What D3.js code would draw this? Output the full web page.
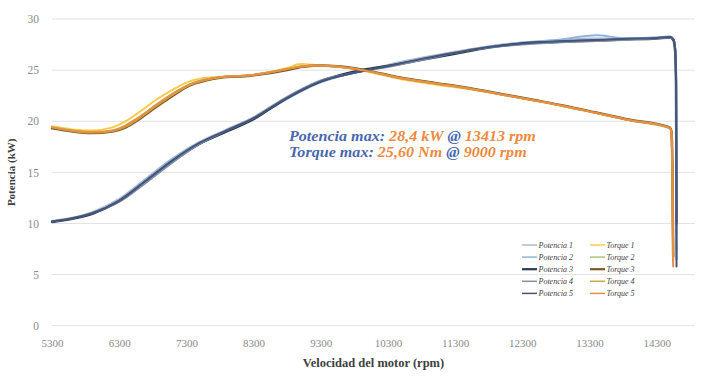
<!DOCTYPE html>
<html>
<head>
<meta charset="utf-8">
<script src="https://cdn.jsdelivr.net/npm/d3@7"></script>
<style>
  html, body { margin: 0; padding: 0; background: #ffffff; }
  svg { display: block; }
  text { font-family: "Liberation Serif", "DejaVu Serif", serif; }
</style>
</head>
<body>
<svg id="chart" width="708" height="377"></svg>
<script>
// Engine speed (rpm) sample points for each family of curves
const rpmPotencia = [5300, 5600, 5900, 6300, 6700, 7100, 7500, 7900, 8300, 8700, 9000, 9300, 9700, 10000, 10300, 10800, 11300, 11800, 12300, 12800, 13413, 13800, 14300, 14500, 14550, 14575, 14588, 14595];
const rpmTorque = [5300, 5600, 5900, 6200, 6400, 6600, 6850, 7100, 7350, 7600, 7800, 8250, 8800, 9000, 9250, 9600, 10000, 10500, 11000, 11500, 12000, 12500, 12900, 13400, 13900, 14450, 14500, 14520, 14535, 14545];

// Power runs (kW)
const potencia1 = [10.25, 10.55, 11.1, 12.4, 14.4, 16.4, 18.0, 19.2, 20.4, 22.0, 23.0, 23.9, 24.6, 25.0, 25.5, 26.2, 26.8, 27.3, 27.7, 27.9, 28.1, 28.1, 28.2, 28.3, 28.0, 27.1, 24.2, 9.0];
const potencia2 = [10.2, 10.5, 11.0, 12.3, 14.3, 16.3, 17.9, 19.1, 20.3, 21.8, 22.9, 23.8, 24.6, 25.0, 25.4, 26.1, 26.7, 27.3, 27.7, 27.95, 28.4, 28.15, 28.2, 28.3, 28.05, 27.0, 24.0, 7.5];
const potencia3 = [10.15, 10.45, 10.95, 12.2, 14.1, 16.1, 17.8, 19.0, 20.2, 21.9, 23.0, 23.9, 24.7, 25.1, 25.4, 26.0, 26.6, 27.2, 27.6, 27.75, 27.9, 28.0, 28.1, 28.2, 27.9, 26.8, 23.5, 10.0];
const potencia4 = [10.2, 10.5, 11.05, 12.1, 14.0, 16.0, 17.8, 19.1, 20.3, 22.0, 23.1, 24.0, 24.6, 25.0, 25.3, 26.0, 26.7, 27.2, 27.5, 27.7, 27.85, 27.95, 28.1, 28.2, 28.0, 27.1, 24.3, 6.5];
const potencia5 = [10.2, 10.5, 11.0, 12.2, 14.2, 16.2, 17.9, 19.1, 20.3, 21.9, 23.0, 23.9, 24.6, 25.0, 25.4, 26.1, 26.7, 27.25, 27.6, 27.8, 27.95, 28.05, 28.15, 28.25, 28.0, 27.0, 24.0, 5.8];

// Torque runs (Nm)
const torque1 = [19.5, 19.2, 19.1, 19.4, 20.0, 20.9, 22.1, 23.1, 23.9, 24.25, 24.35, 24.5, 25.2, 25.6, 25.5, 25.3, 24.85, 24.1, 23.6, 23.15, 22.6, 22.0, 21.5, 20.8, 20.1, 19.45, 19.3, 18.8, 13.0, 8.0];
const torque2 = [19.4, 19.1, 18.9, 19.1, 19.6, 20.4, 21.6, 22.7, 23.6, 24.1, 24.3, 24.5, 25.1, 25.3, 25.4, 25.3, 24.9, 24.2, 23.7, 23.2, 22.6, 22.0, 21.5, 20.8, 20.1, 19.4, 19.3, 18.9, 14.0, 7.0];
const torque3 = [19.3, 19.0, 18.85, 19.0, 19.4, 20.2, 21.4, 22.5, 23.5, 24.0, 24.25, 24.45, 25.0, 25.3, 25.45, 25.35, 24.95, 24.25, 23.75, 23.25, 22.65, 22.05, 21.55, 20.85, 20.15, 19.5, 19.35, 19.0, 15.0, 6.8];
const torque4 = [19.4, 19.05, 18.9, 19.05, 19.5, 20.3, 21.5, 22.6, 23.55, 24.05, 24.3, 24.5, 25.1, 25.35, 25.45, 25.3, 24.9, 24.2, 23.7, 23.2, 22.6, 22.0, 21.5, 20.8, 20.1, 19.45, 19.3, 18.9, 14.0, 6.3];
const torque5 = [19.4, 19.1, 18.95, 19.1, 19.6, 20.4, 21.6, 22.7, 23.6, 24.1, 24.3, 24.5, 25.1, 25.35, 25.45, 25.3, 24.9, 24.2, 23.7, 23.2, 22.6, 22.0, 21.5, 20.8, 20.1, 19.45, 19.3, 18.9, 14.0, 5.8];

// Axis ticks
const xTicks = [5300, 6300, 7300, 8300, 9300, 10300, 11300, 12300, 13300, 14300];
const yTicks = [0, 5, 10, 15, 20, 25, 30];

// Series table: legend order is row-wise (Potencia n, Torque n)
const series = [
  { name: "Potencia 1", x: rpmPotencia, y: potencia1, color: "#aebacb", w: 2 },
  { name: "Torque 1",   x: rpmTorque,   y: torque1,   color: "#f4cc48", w: 2 },
  { name: "Potencia 2", x: rpmPotencia, y: potencia2, color: "#8fb4dc", w: 2 },
  { name: "Torque 2",   x: rpmTorque,   y: torque2,   color: "#a9c47a", w: 2 },
  { name: "Potencia 3", x: rpmPotencia, y: potencia3, color: "#2c3850", w: 2.5 },
  { name: "Torque 3",   x: rpmTorque,   y: torque3,   color: "#7a5c22", w: 2.5 },
  { name: "Potencia 4", x: rpmPotencia, y: potencia4, color: "#8390a8", w: 2 },
  { name: "Torque 4",   x: rpmTorque,   y: torque4,   color: "#c9a540", w: 2 },
  { name: "Potencia 5", x: rpmPotencia, y: potencia5, color: "#44557a", w: 2 },
  { name: "Torque 5",   x: rpmTorque,   y: torque5,   color: "#e98f45", w: 2 }
];

const svg = d3.select("#chart");

const x = d3.scaleLinear().domain([5300, 14870]).range([52, 695]);
const y = d3.scaleLinear().domain([0, 30]).range([325.7, 19]);

// Horizontal gridlines
svg.append("g")
  .selectAll("line")
  .data(yTicks)
  .join("line")
  .attr("x1", x.range()[0])
  .attr("x2", x.range()[1])
  .attr("y1", d => y(d))
  .attr("y2", d => y(d))
  .attr("stroke", "#e2e2e2")
  .attr("stroke-width", 1);

// Y axis labels
const yAxis = svg.append("g")
  .attr("transform", `translate(${x.range()[0]},0)`)
  .call(d3.axisLeft(y).tickValues(yTicks).tickSize(0).tickPadding(13));
yAxis.select(".domain").remove();
yAxis.selectAll("text")
  .attr("font-family", "Liberation Serif")
  .attr("font-size", 11.5)
  .attr("fill", "#8a8a8a");

// X axis labels
const xAxis = svg.append("g")
  .attr("transform", `translate(0,${y(0)})`)
  .call(d3.axisBottom(x).tickValues(xTicks).tickFormat(d3.format("d")).tickSize(0).tickPadding(14));
xAxis.select(".domain").remove();
xAxis.selectAll("text")
  .attr("font-family", "Liberation Serif")
  .attr("font-size", 11)
  .attr("fill", "#8a8a8a");

// Axis titles
svg.append("text")
  .attr("x", (x.range()[0] + x.range()[1]) / 2)
  .attr("y", 367)
  .attr("text-anchor", "middle")
  .attr("font-size", 12.5)
  .attr("font-weight", "bold")
  .attr("fill", "#404040")
  .text("Velocidad del motor (rpm)");

svg.append("text")
  .attr("transform", `translate(15,${(y(0) + y(30)) / 2}) rotate(-90)`)
  .attr("text-anchor", "middle")
  .attr("font-size", 11)
  .attr("font-weight", "bold")
  .attr("fill", "#404040")
  .text("Potencia (kW)");

// Curves
const line = d3.line().curve(d3.curveMonotoneX);
svg.append("g")
  .attr("fill", "none")
  .attr("stroke-linejoin", "round")
  .attr("stroke-linecap", "round")
  .selectAll("path")
  .data(series)
  .join("path")
  .attr("d", s => line(s.x.map((r, i) => [x(r), y(s.y[i])])))
  .attr("stroke", d => d.color)
  .attr("stroke-width", d => d.w);

// Peak annotation
const blue = "#4a68ad";
const orange = "#ee8a3e";
const notes = [
  [["Potencia max: ", blue], ["28,4 kW ", orange], ["@ ", blue], ["13413 rpm", orange]],
  [["Torque max: ", blue], ["25,60 Nm ", orange], ["@ ", blue], ["9000 rpm", orange]]
];
const note = svg.append("g").attr("transform", "translate(289,0) scale(1.15,1)");
notes.forEach((parts, k) => {
  const t = note.append("text")
    .attr("x", 0)
    .attr("y", 141.5 + k * 15.8)
    .attr("font-size", 14)
    .attr("font-weight", "bold")
    .attr("font-style", "italic")
    .attr("xml:space", "preserve");
  parts.forEach(([txt, col]) => t.append("tspan").attr("fill", col).text(txt));
});

// Legend (two columns)
const legend = svg.append("g");
series.forEach((s, i) => {
  const col = i % 2;
  const row = Math.floor(i / 2);
  const lx = col === 0 ? 522 : 590;
  const ly = 245 + row * 12.1;
  legend.append("line")
    .attr("x1", lx).attr("x2", lx + 15)
    .attr("y1", ly).attr("y2", ly)
    .attr("stroke", s.color)
    .attr("stroke-width", s.w === 2.5 ? 2.2 : 1.5);
  legend.append("text")
    .attr("x", lx + 16.5)
    .attr("y", ly + 2.8)
    .attr("font-size", 8)
    .attr("font-style", "italic")
    .attr("fill", "#404040")
    .text(s.name);
});
</script>
</body>
</html>
